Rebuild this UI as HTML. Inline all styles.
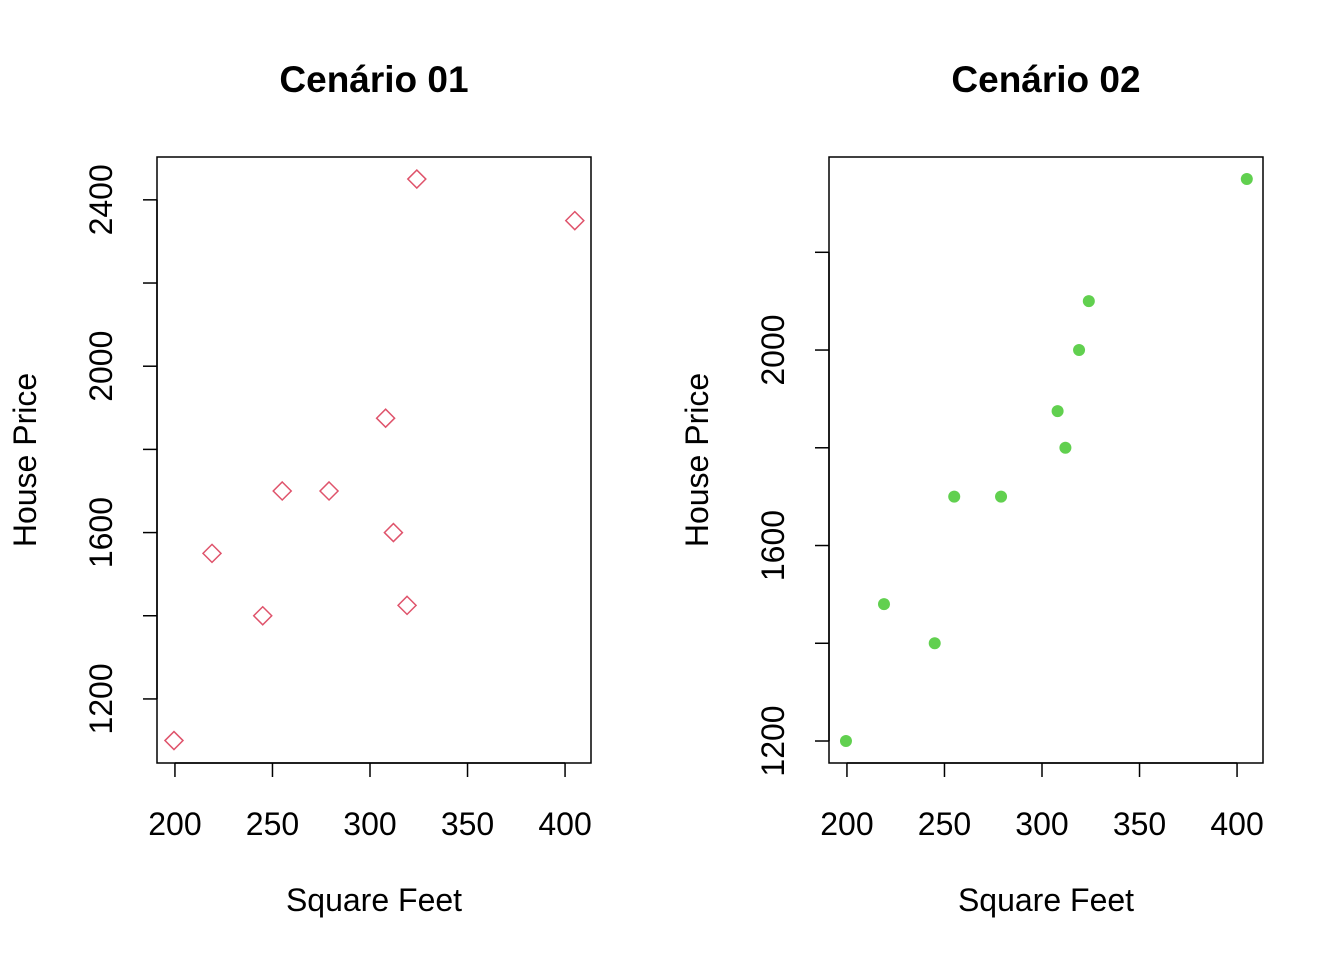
<!DOCTYPE html>
<html><head><meta charset="utf-8"><style>body{margin:0;background:#fff}svg{display:block;font-family:"Liberation Sans",Arial,sans-serif}</style></head>
<body>
<svg id="c" width="1344" height="960"></svg>
<script>
const xs1=[199.5,219,245,255,279,308,312,319,324,405];
const ys1=[1100,1550,1400,1700,1700,1875,1600,1425,2450,2350];
const xs2=[199.5,219,245,255,279,308,312,319,324,405];
const ys2=[1200,1480,1400,1700,1700,1875,1800,2000,2100,2350];
const xTicks=[200,250,300,350,400];
const yTicks1=[1200,1400,1600,1800,2000,2200,2400];
const yLabels1=[1200,1600,2000,2400];
const yTicks2=[1200,1400,1600,1800,2000,2200];
const yLabels2=[1200,1600,2000];
const NS="http://www.w3.org/2000/svg";
const svg=document.getElementById('c');
function mk(t,a,p){const e=document.createElementNS(NS,t);for(const k in a)e.setAttribute(k,a[k]);(p||svg).appendChild(e);return e;}
function panel(ox,title,xs,ys,yT,yL,yMin,yMax,kind,name){
  const g=mk('g',{});
  
  
  const L=ox+157,R=ox+591,T=157,B=763,xMin=190.8,xMax=413.3;
  const sx=v=>L+(v-xMin)/(xMax-xMin)*(R-L);
  const sy=v=>B-(v-yMin)/(yMax-yMin)*(B-T);
  const box=mk('rect',{x:L,y:T,width:R-L,height:B-T,fill:'none',stroke:'#000','stroke-width':1.5},g);
  
  const t=mk('text',{x:(L+R)/2,y:92,'text-anchor':'middle','font-size':37,'font-weight':'bold'},g);t.textContent=title;
  
  mk('line',{x1:sx(xTicks[0]),x2:sx(xTicks[xTicks.length-1]),y1:B,y2:B,stroke:'#000','stroke-width':1.5},g);
  xTicks.forEach(v=>{mk('line',{x1:sx(v),x2:sx(v),y1:B,y2:B+14,stroke:'#000','stroke-width':1.5},g);
    const l=mk('text',{x:sx(v),y:835,'text-anchor':'middle','font-size':32},g);l.textContent=v;
    });
  mk('line',{x1:L,x2:L,y1:sy(yT[0]),y2:sy(yT[yT.length-1]),stroke:'#000','stroke-width':1.5},g);
  yT.forEach(v=>mk('line',{x1:L-14,x2:L,y1:sy(v),y2:sy(v),stroke:'#000','stroke-width':1.5},g));
  yL.forEach(v=>{const l=mk('text',{x:ox+112,y:sy(v),'text-anchor':'middle','font-size':32,transform:`rotate(-90 ${ox+112} ${sy(v)})`},g);l.textContent=v;
    });
  const xt=mk('text',{x:(L+R)/2,y:911,'text-anchor':'middle','font-size':32},g);xt.textContent='Square Feet';
  
  const yt=mk('text',{x:ox+36,y:460,'text-anchor':'middle','font-size':32,transform:`rotate(-90 ${ox+36} 460)`},g);yt.textContent='House Price';
  
  xs.forEach((v,i)=>{const cx=sx(v),cy=sy(ys[i]);let p;
    if(kind==='d')p=mk('polygon',{points:`${cx},${cy-9} ${cx+9},${cy} ${cx},${cy+9} ${cx-9},${cy}`,fill:'none',stroke:'#DF536B','stroke-width':1.5},g);
    else p=mk('circle',{cx:cx,cy:cy,r:6,fill:'#61D04F'},g);
    });
}
panel(0,'Cenário 01',xs1,ys1,yTicks1,yLabels1,1046,2503,'d','panel-cenario-01');
panel(672,'Cenário 02',xs2,ys2,yTicks2,yLabels2,1155,2395,'c','panel-cenario-02');
</script>
</body></html>
